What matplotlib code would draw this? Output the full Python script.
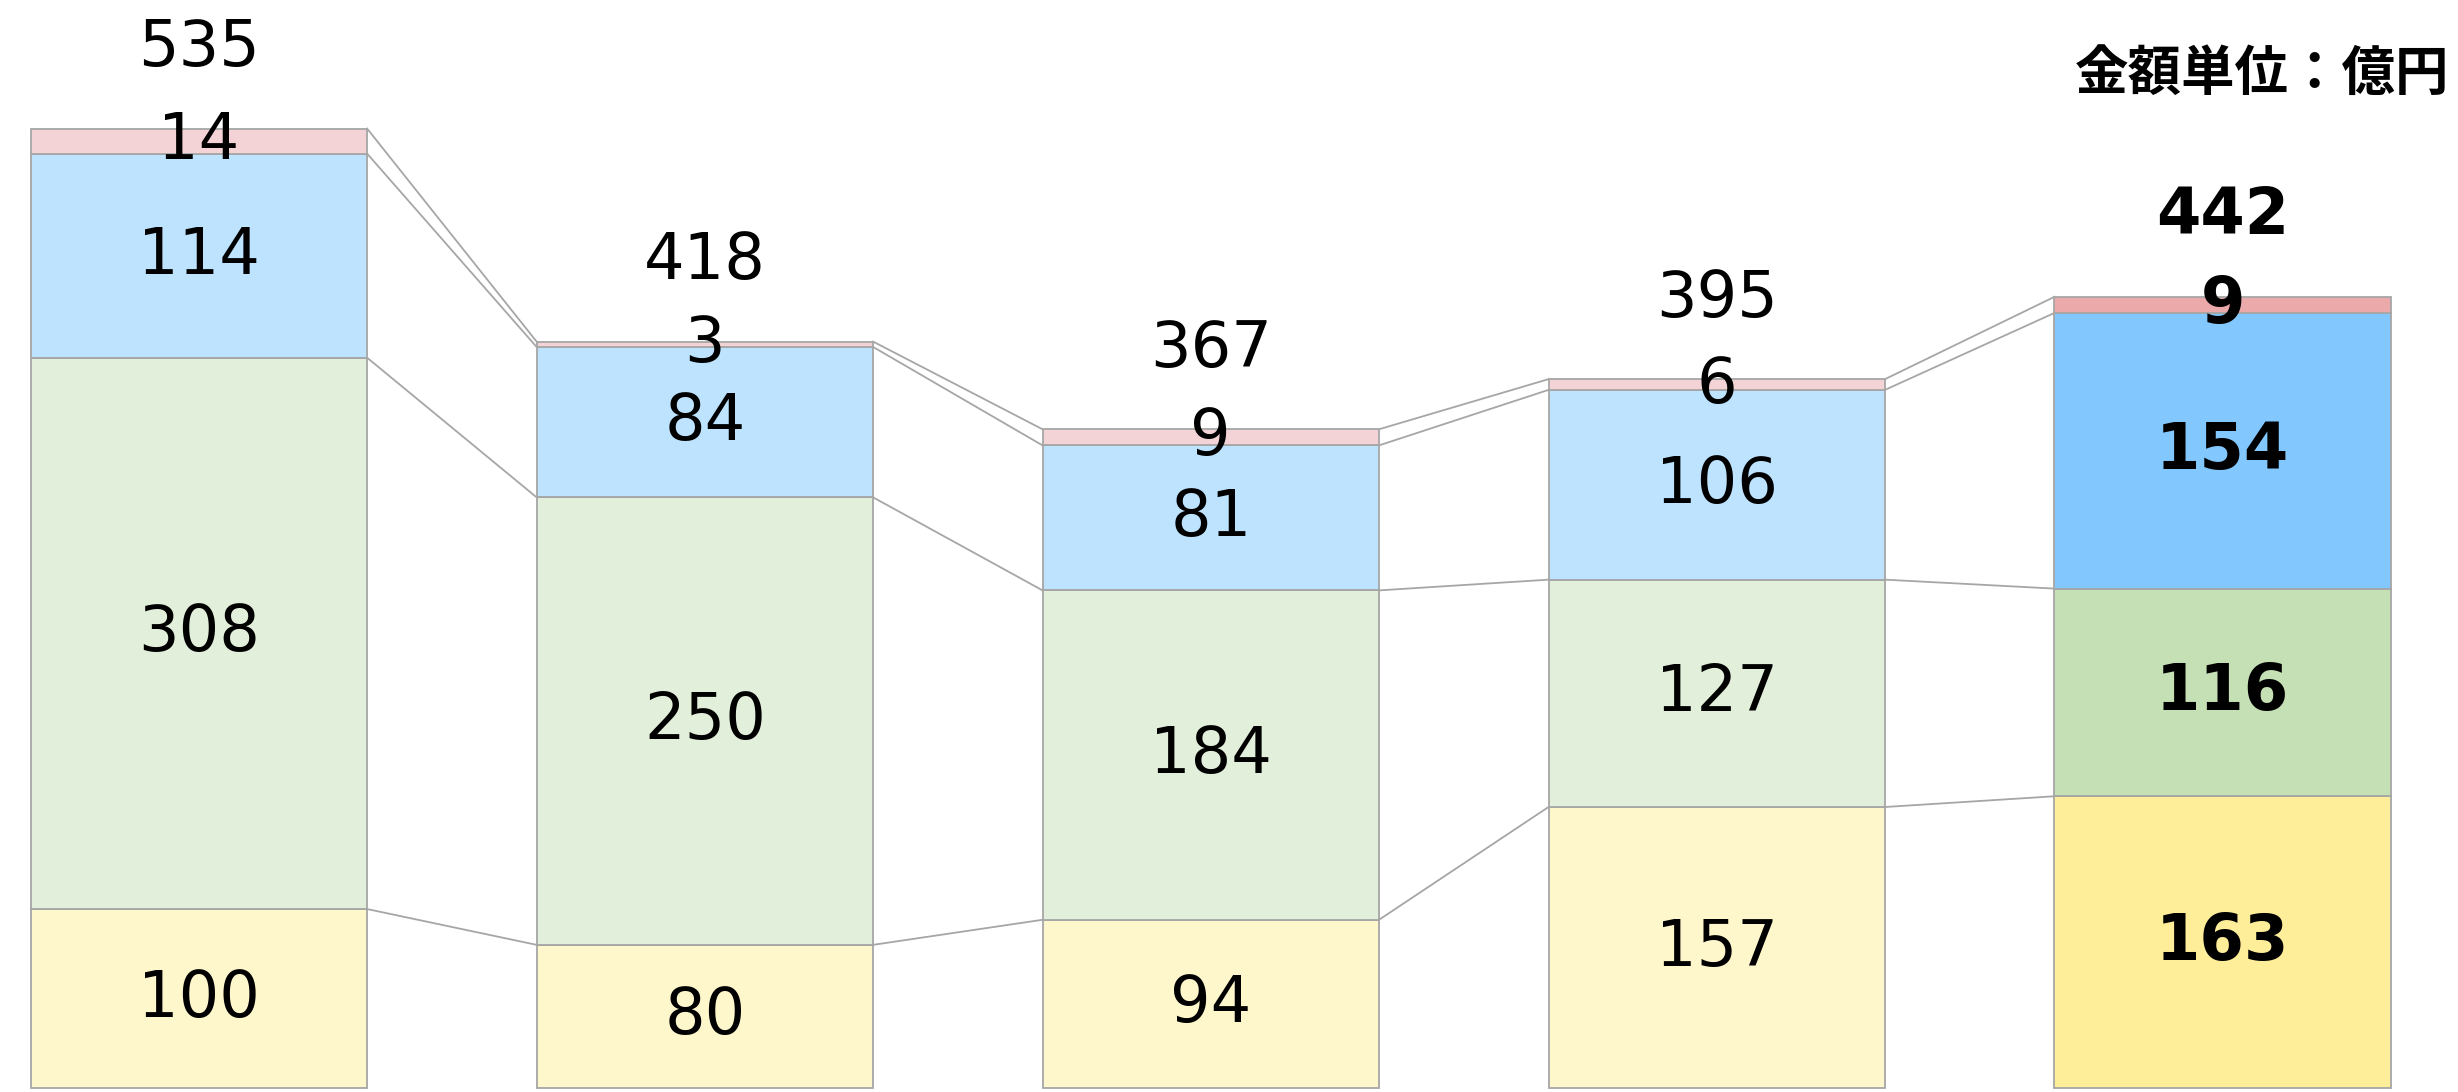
import matplotlib.pyplot as plt
import numpy as np

# segment values, bottom to top
bottom_vals = [100, 80, 94, 157, 163]
green_vals = [308, 250, 184, 127, 116]
blue_vals = [114, 84, 81, 106, 154]
pink_vals = [14, 3, 9, 6, 9]
totals = [535, 418, 367, 395, 442]

light_colors = ['#FFF7CC', '#E2EFDA', '#BDE3FF', '#F4D3D6']
dark_colors = ['#FFEE99', '#C5E0B4', '#82C8FF', '#EBA9A9']
edge = '#A6A6A6'

plt.rcParams['font.family'] = ['DejaVu Sans', 'Noto Sans CJK JP']

fig = plt.figure(figsize=(24.58, 10.92), dpi=100)
ax = fig.add_axes([0, 0, 1, 1])

x = np.arange(len(totals))
w = 0.665
layers = [bottom_vals, green_vals, blue_vals, pink_vals]
base = np.zeros(len(totals))
tops = []
for i, vals in enumerate(layers):
    vals = np.array(vals, dtype=float)
    cols = [light_colors[i]] * (len(totals) - 1) + [dark_colors[i]]
    ax.bar(x, vals, w, bottom=base, color=cols, edgecolor=edge, linewidth=1.3, zorder=2)
    for j in range(len(totals)):
        bold = 'bold' if j == len(totals) - 1 else 'normal'
        ax.text(x[j], base[j] + vals[j] / 2, str(int(vals[j])), ha='center', va='center',
                fontsize=46, fontweight=bold, zorder=3)
    base = base + vals
    tops.append(base.copy())

# connector lines between neighbouring bars
for lvl in tops:
    for j in range(len(totals) - 1):
        ax.plot([x[j] + w / 2, x[j + 1] - w / 2], [lvl[j], lvl[j + 1]],
                color=edge, linewidth=1.3, zorder=1)

for j in range(len(totals)):
    bold = 'bold' if j == len(totals) - 1 else 'normal'
    ax.text(x[j], base[j] + 45, str(totals[j]), ha='center', va='center',
            fontsize=46, fontweight=bold, zorder=3)

ax.text(0.9965, 0.932, '金額単位：億円', transform=ax.transAxes, ha='right', va='center',
        fontsize=38.5, fontweight='bold', family=['Noto Sans CJK JP', 'DejaVu Sans'])

ax.set_xlim(-0.393, 4.465)
ax.set_ylim(-2.2, 607.8)
ax.axis('off')

fig.savefig('out.png', dpi=100)
